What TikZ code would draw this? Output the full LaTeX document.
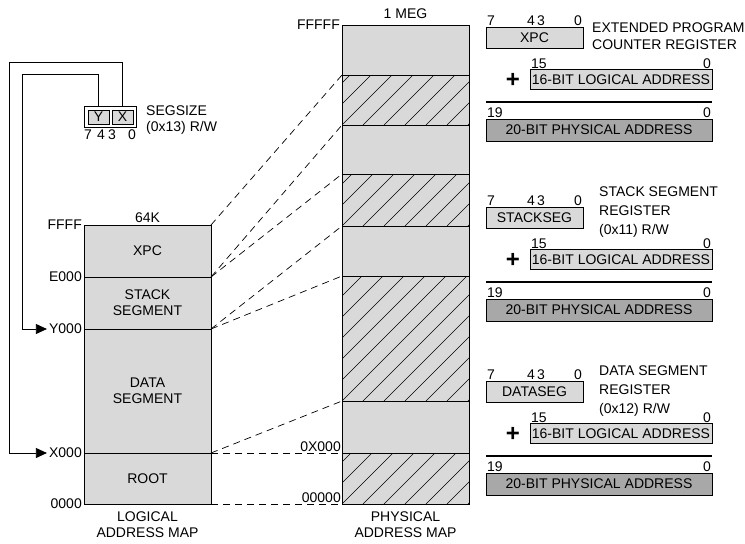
\documentclass[tikz,border=0pt]{standalone}
\usepackage{fontspec}
\setmainfont{Liberation Sans}
\usetikzlibrary{
  arrows.meta,
  positioning,
  calc
}
\definecolor{segGray}{HTML}{D9D9D9}
\definecolor{addrGray}{HTML}{A8A8A8}
\tikzset{
  % Segment of an address map
  segbox/.style={
    draw,
    fill=segGray,
    line width=0.8pt,
    minimum width=127pt,
    inner sep=0pt,
    outer sep=0pt,
    align=center
  },
  % Hatched physical segment
  hatched/.style={
    path picture={
      \foreach \k in {-7,...,7}
        \draw[line width=0.5pt] ([xshift=\k*21pt]path picture bounding box.south west) -- ++(150pt,150pt);
    }
  },
  % Plain text label
  lbl/.style={
    inner sep=2pt
  },
  % Bit cell of SEGSIZE
  bitcell/.style={
    draw,
    fill=segGray,
    line width=0.8pt,
    minimum width=21pt,
    minimum height=14pt,
    inner sep=0pt
  },
  % Register box
  regbox/.style={
    draw,
    fill=segGray,
    line width=0.8pt,
    minimum width=97pt,
    minimum height=21pt,
    inner sep=0pt,
    outer sep=0pt
  },
  % 16-bit logical address
  logaddr/.style={
    draw,
    fill=segGray,
    line width=0.8pt,
    minimum width=182pt,
    minimum height=20pt,
    inner sep=0pt,
    outer sep=0pt
  },
  % 20-bit physical address
  physaddr/.style={
    draw,
    fill=addrGray,
    line width=0.8pt,
    minimum width=226pt,
    minimum height=22pt,
    inner sep=0pt,
    outer sep=0pt
  },
  % Register description
  regtext/.style={
    align=left,
    inner sep=2pt,
    font=\fontsize{14}{19}\selectfont
  },
  % Mapping line
  mapline/.style={
    line width=0.7pt,
    dash pattern=on 7pt off 5pt
  },
  % SEGSIZE wire
  wire/.style={
    line width=0.8pt,
    -{Triangle[length=11pt,width=10pt]}
  },
  % Addition rule
  sumline/.style={
    line width=2.2pt
  }
}

\begin{document}
\begin{tikzpicture}[x=1pt, y=-1pt, font=\fontsize{14}{16}\selectfont]
\useasboundingbox (0,0) rectangle (745,544);

%% === SEGSIZE register ===
\node[draw, fill=white, line width=0.8pt, minimum width=52pt, minimum height=21pt] (segbox) at (110,116.5) {};
\node[bitcell] (ybit) at (98.5,117) {Y};
\node[bitcell] (xbit) at (122.5,117) {X};
\node[lbl, anchor=west, align=left] (segname) at (144,120) {SEGSIZE\\(0x13) R/W};
\foreach \b/\dx in {7/-22, 4/-9, 3/2, 0/22}
  \node[lbl, anchor=north, inner sep=0pt] (seg\b) at ([xshift=\dx pt, yshift=-2pt]segbox.south) {\b};

%% === Logical address map ===
\node[segbox, minimum height=52pt] (lxpc) at (147.5,251) {XPC};
\node[segbox, minimum height=52pt, below=0pt of lxpc] (lstack) {STACK\\SEGMENT};
\node[segbox, minimum height=124pt, below=0pt of lstack] (ldata) {DATA\\SEGMENT};
\node[segbox, minimum height=51pt, below=0pt of ldata] (lroot) {ROOT};

\node[lbl, above=0pt of lxpc] (l64k) {64K};
\node[lbl, below=6pt of lroot, align=center] (lname) {LOGICAL\\ADDRESS MAP};

\node[lbl, anchor=east] (lffff) at (lxpc.north west) {FFFF};
\node[lbl, anchor=east] (le000) at (lxpc.south west) {E000};
\node[lbl, anchor=east] (ly000) at (lstack.south west) {Y000};
\node[lbl, anchor=east] (lx000) at (ldata.south west) {X000};
\node[lbl, anchor=east] (l0000) at (lroot.south west) {0000};

%% === Wires from SEGSIZE ===
\coordinate (ywire) at (22,74);
\coordinate (xwire) at (9,62);
\draw[wire] (ybit.north |- segbox.north) |- (ywire) |- (ly000.west);
\draw[wire] (xbit.north |- segbox.north) |- (xwire) |- (lx000.west);

%% === Physical address map ===
\node[segbox, minimum height=50pt] (p1) at (405.5,50) {};
\node[segbox, hatched, minimum height=50pt, below=0pt of p1] (p2) {};
\node[segbox, minimum height=49pt, below=0pt of p2] (p3) {};
\node[segbox, hatched, minimum height=52pt, below=0pt of p3] (p4) {};
\node[segbox, minimum height=50pt, below=0pt of p4] (p5) {};
\node[segbox, hatched, minimum height=125pt, below=0pt of p5] (p6) {};
\node[segbox, minimum height=52pt, below=0pt of p6] (p7) {};
\node[segbox, hatched, minimum height=51pt, below=0pt of p7] (p8) {};

\node[lbl, above=4pt of p1] (p1meg) {1 MEG};
\node[lbl, below=6pt of p8, align=center] (pname) {PHYSICAL\\ADDRESS MAP};
\node[lbl, anchor=east] (pfffff) at (p1.north west) {FFFFF};

% Mapping lines
\foreach \l/\p in {lxpc/p2, lstack/p4, ldata/p6, lroot/p8} {
  \draw[mapline] (\l.north east) -- (\p.north west);
  \draw[mapline] (\l.south east) -- (\p.south west);
}
\node[lbl, anchor=south east, inner sep=1pt] (p0x000) at (p8.north west) {0X000};
\node[lbl, anchor=south east, inner sep=1pt] (p00000) at (p8.south west) {00000};

%% === Segment registers ===
\node[regbox] (xpcreg) at (534.5,37.5) {XPC};
\node[regbox] (stkreg) at (534.5,217.5) {STACKSEG};
\node[regbox] (datreg) at (534.5,391.5) {DATASEG};

\foreach \r in {xpcreg, stkreg, datreg} {
  \node[lbl, anchor=south west, inner sep=1pt] (\r7) at (\r.north west) {7};
  \node[lbl, anchor=south, inner sep=1pt] (\r43) at ([xshift=1.5pt]\r.north) {4\,3};
  \node[lbl, anchor=south east, inner sep=1pt] (\r0) at (\r.north east) {0};
}

\node[regtext, anchor=west, font=\fontsize{14}{17}\selectfont] (xpcname) at (590,36.5) {EXTENDED PROGRAM\\COUNTER REGISTER};
\node[regtext, anchor=north west] (stkname) at (597,185) {STACK SEGMENT\\REGISTER\\(0x11) R/W};
\node[regtext, anchor=north west] (datname) at (597,364) {DATA SEGMENT\\REGISTER\\(0x12) R/W};

% Address sums
\foreach \nm/\ty in {xpc/27, stk/207, dat/381} {
  \node[logaddr] (log\nm) at (621,\ty+52.5) {16-BIT LOGICAL ADDRESS};
  \node[lbl, anchor=south west, inner sep=1pt] (loghi\nm) at (log\nm.north west) {15};
  \node[lbl, anchor=south east, inner sep=1pt] (loglo\nm) at (log\nm.north east) {0};
  \node[lbl, font=\fontsize{24}{24}\selectfont\bfseries] (plus\nm) at (513,\ty+53) {+};
  \node[physaddr] (phy\nm) at (599,\ty+103) {20-BIT PHYSICAL ADDRESS};
  \node[lbl, anchor=south west, inner sep=1pt] (phyhi\nm) at (phy\nm.north west) {19};
  \node[lbl, anchor=south east, inner sep=1pt] (phylo\nm) at (phy\nm.north east) {0};
  \draw[sumline] ([yshift=17pt]phy\nm.north west) -- ([yshift=17pt]phy\nm.north east);
}

\end{tikzpicture}
\end{document}
